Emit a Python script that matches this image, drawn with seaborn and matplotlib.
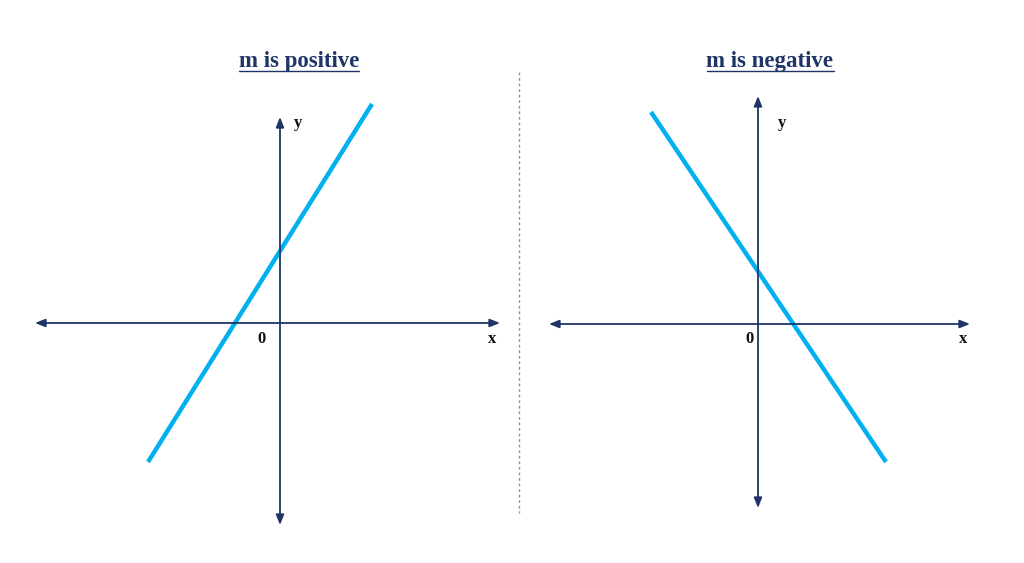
import matplotlib
matplotlib.use("Agg")
import matplotlib.pyplot as plt
from matplotlib.lines import Line2D
import seaborn as sns
import pandas as pd

sns.set_theme(style="white")
plt.rcParams["font.family"] = ["Liberation Serif", "DejaVu Serif"]

NAVY = "#1f3568"
CYAN = "#00b0f0"

# ── Data (pixel-like units, origin at axes crossing) ─────────────────────────
titles = ["m is positive", "m is negative"]

pos_line_x = [-132, 92]
pos_line_y = [-139, 219]
neg_line_x = [-107, 128]
neg_line_y = [212, -138]

pos_xaxis = [-245, 220]
pos_yaxis = [-202, 206]
neg_xaxis = [-209, 212]
neg_yaxis = [-184, 228]

pos_labels = {"y": (18, 200), "0": (-18, -16), "x": (212, -16)}
neg_labels = {"y": (24, 201), "0": (-9, -15), "x": (205, -15)}

W, H = 1024, 563
fig = plt.figure(figsize=(W / 100, H / 100), dpi=100)
fig.patch.set_facecolor("white")

panels = [
    dict(rect=[0, 0, 0.5, 1], xlim=(-280, 232), ylim=(-240, 323),
         lx=pos_line_x, ly=pos_line_y, xa=pos_xaxis, ya=pos_yaxis,
         labels=pos_labels, title_x=299),
    dict(rect=[0.5, 0, 0.5, 1], xlim=(-246, 266), ylim=(-239, 324),
         lx=neg_line_x, ly=neg_line_y, xa=neg_xaxis, ya=neg_yaxis,
         labels=neg_labels, title_x=770),
]

arrow = dict(arrowstyle="<|-|>,head_length=0.5,head_width=0.2",
             color=NAVY, lw=1.3, shrinkA=0, shrinkB=0)

title_texts = []
for p, title in zip(panels, titles):
    ax = fig.add_axes(p["rect"])
    ax.set_xlim(*p["xlim"])
    ax.set_ylim(*p["ylim"])
    ax.axis("off")

    ax.annotate("", xy=(p["xa"][1], 0), xytext=(p["xa"][0], 0), arrowprops=arrow)
    ax.annotate("", xy=(0, p["ya"][1]), xytext=(0, p["ya"][0]), arrowprops=arrow)

    df = pd.DataFrame({"x": p["lx"], "y": p["ly"]})
    sns.lineplot(data=df, x="x", y="y", ax=ax, color=CYAN, lw=3.2,
                 solid_capstyle="butt")

    for lab, (tx, ty) in p["labels"].items():
        ax.text(tx, ty, lab, ha="center", va="center", fontsize=12,
                fontweight="bold", color="#111111")

    t = fig.text(p["title_x"] / W, 1 - 61 / H, title, ha="center", va="center",
                 fontsize=16.5, fontweight="bold", color=NAVY)
    title_texts.append(t)

# separator
fig.add_artist(Line2D([519 / W, 519 / W], [1 - 72 / H, 1 - 513 / H],
                      transform=fig.transFigure, color="#8593b8", lw=1,
                      linestyle=(0, (2, 2))))

# underline the titles
fig.canvas.draw()
renderer = fig.canvas.get_renderer()
for t in title_texts:
    bb = t.get_window_extent(renderer)
    y = (bb.y0 + 1) / H
    fig.add_artist(Line2D([bb.x0 / W, bb.x1 / W], [y, y],
                          transform=fig.transFigure, color=NAVY, lw=1))

fig.savefig("out.png", dpi=100, facecolor="white")
